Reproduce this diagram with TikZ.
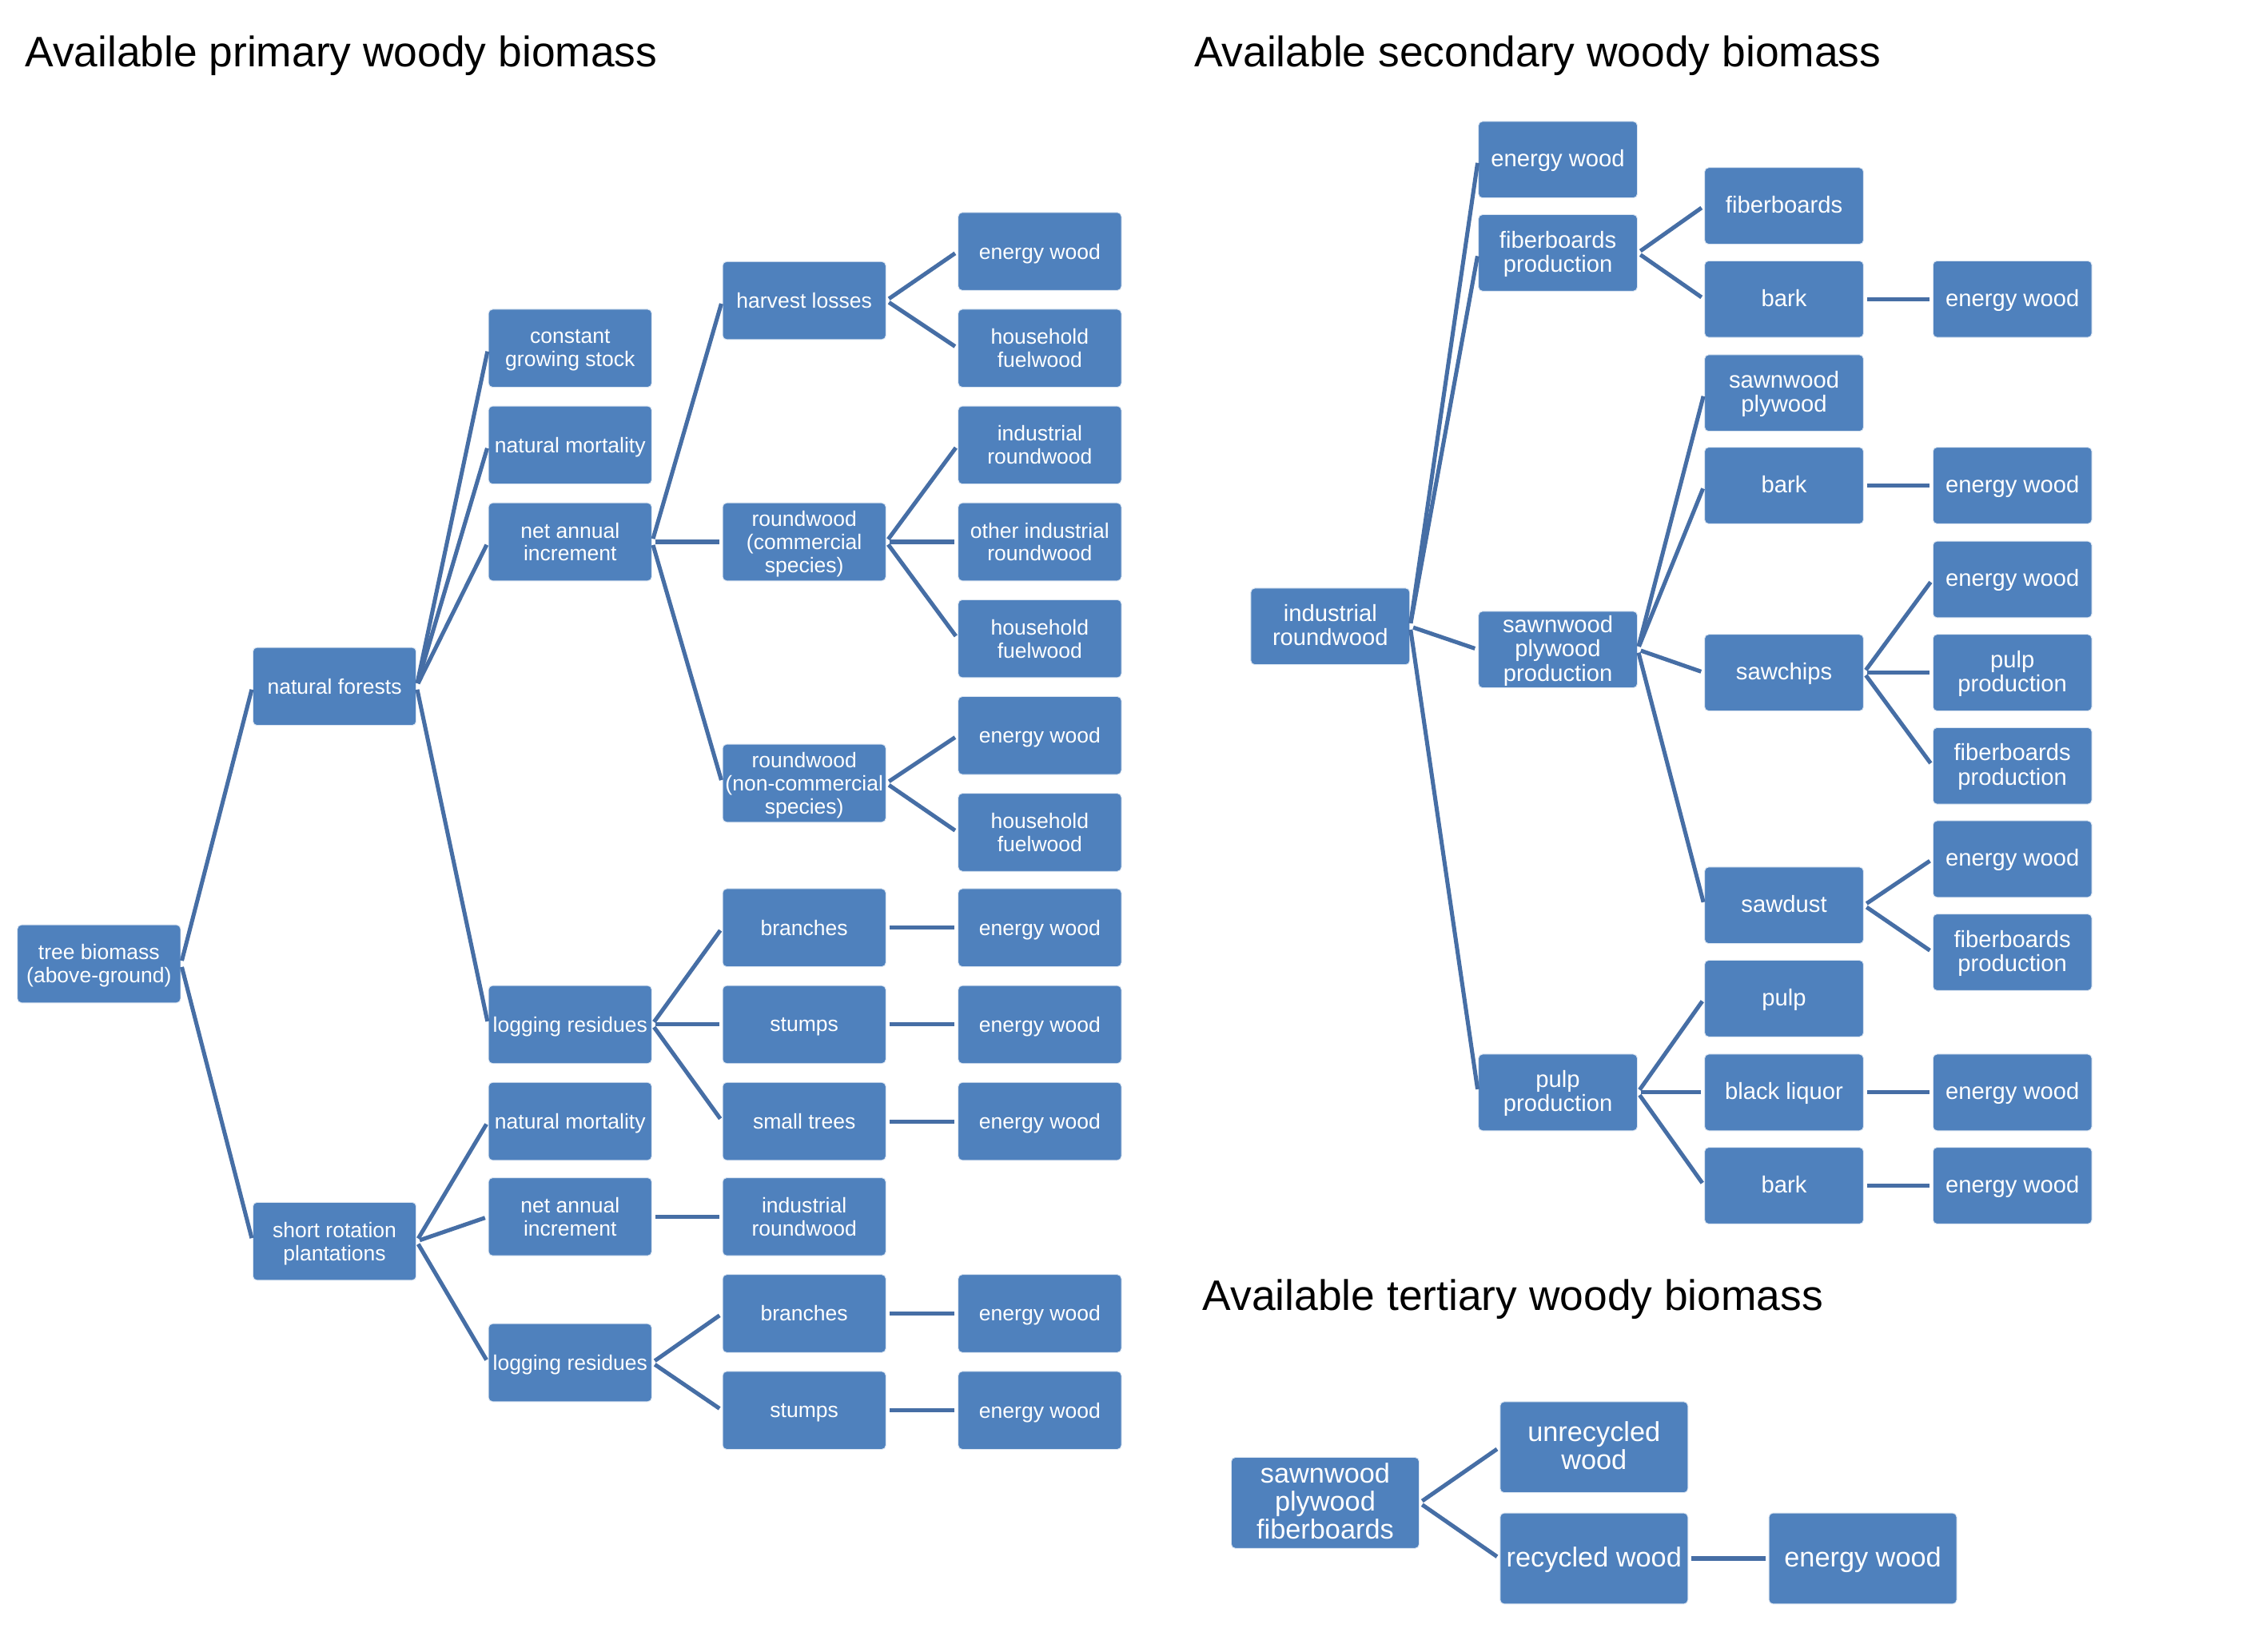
\documentclass[tikz,border=0pt]{standalone}
\usepackage{fontspec}
\setmainfont{Liberation Sans}
\usepackage{tikz}
\definecolor{boxblue}{RGB}{79,129,189}
\definecolor{linkblue}{RGB}{70,110,165}
\tikzset{every edge/.style={shorten >=0.45mm, shorten <=0.45mm, draw=linkblue, line width=1.6pt}}

\begin{document}
\begin{tikzpicture}[x=0.02cm, y=-0.02cm,
  box/.style={fill=boxblue, draw=white!80!boxblue, line width=0.3pt, rounded corners=1.6pt,
    text=white, align=center, inner sep=0pt},
  boxA/.style={box, minimum width=2.26cm, minimum height=1.08cm, text depth=0.1pt,
    font=\fontsize{8.35}{9.1}\selectfont},
  boxB/.style={box, minimum width=2.2cm, minimum height=1.06cm, text depth=1.1pt,
    font=\fontsize{9.2}{9.6}\selectfont},
  boxC/.style={box, minimum width=2.6cm, minimum height=1.26cm, text depth=1.3pt,
    font=\fontsize{10.8}{11}\selectfont},
  heading/.style={anchor=base west, inner sep=0pt, font=\fontsize{16.8}{18}\selectfont}]
  \useasboundingbox (0,0) rectangle (1568,1143);

  \node[heading] at (17,46) (tp) {Available primary woody biomass};
  \node[heading] at (826,46) (ts) {Available secondary woody biomass};
  \node[heading] at (832,907) (tt) {Available tertiary woody biomass};

  % primary
  \begin{scope}
  \node[boxA] at (68.5,667) (tb) {tree biomass\\(above-ground)};
  \node[boxA] at (231.5,475) (nf) {natural forests};
  \node[boxA] at (231.5,859) (srp) {short rotation\\plantations};

  \node[boxA] at (394.5,241) (cgs) {constant\\growing stock};
  \node[boxA] at (394.5,308) (nmA) {natural mortality};
  \node[boxA] at (394.5,375) (naiA) {net annual\\increment};
  \node[boxA] at (394.5,709) (lrA) {logging residues};
  \node[boxA] at (394.5,776) (nmB) {natural mortality};
  \node[boxA] at (394.5,842) (naiB) {net annual\\increment};
  \node[boxA] at (394.5,943) (lrB) {logging residues};

  \node[boxA] at (556.5,208) (hl) {harvest losses};
  \node[boxA] at (556.5,375) (rwc) {roundwood\\(commercial\\species)};
  \node[boxA] at (556.5,542) (rwn) {roundwood\\(non-commercial\\species)};
  \node[boxA] at (556.5,642) (brA) {branches};
  \node[boxA] at (556.5,709) (stA) {stumps};
  \node[boxA] at (556.5,776) (smt) {small trees};
  \node[boxA] at (556.5,842) (irB) {industrial\\roundwood};
  \node[boxA] at (556.5,909) (brB) {branches};
  \node[boxA] at (556.5,976) (stB) {stumps};

  \node[boxA] at (719.5,174) (ew1) {energy wood};
  \node[boxA] at (719.5,241) (hf1) {household\\fuelwood};
  \node[boxA] at (719.5,308) (ir1) {industrial\\roundwood};
  \node[boxA] at (719.5,375) (oir) {other industrial\\roundwood};
  \node[boxA] at (719.5,442) (hf2) {household\\fuelwood};
  \node[boxA] at (719.5,509) (ew2) {energy wood};
  \node[boxA] at (719.5,576) (hf3) {household\\fuelwood};
  \node[boxA] at (719.5,642) (ew3) {energy wood};
  \node[boxA] at (719.5,709) (ew4) {energy wood};
  \node[boxA] at (719.5,776) (ew5) {energy wood};
  \node[boxA] at (719.5,909) (ew6) {energy wood};
  \node[boxA] at (719.5,976) (ew7) {energy wood};

  \draw (tb.east) edge (nf.west) edge (srp.west);
  \draw (nf.east) edge (cgs.west) edge (nmA.west) edge (naiA.west) edge (lrA.west);
  \draw (srp.east) edge (nmB.west) edge (naiB.west) edge (lrB.west);
  \draw (naiA.east) edge (hl.west) edge (rwc.west) edge (rwn.west);
  \draw (lrA.east) edge (brA.west) edge (stA.west) edge (smt.west);
  \draw (naiB.east) edge (irB.west);
  \draw (lrB.east) edge (brB.west) edge (stB.west);
  \draw (hl.east) edge (ew1.west) edge (hf1.west);
  \draw (rwc.east) edge (ir1.west) edge (oir.west) edge (hf2.west);
  \draw (rwn.east) edge (ew2.west) edge (hf3.west);
  \draw (brA.east) edge (ew3.west);
  \draw (stA.east) edge (ew4.west);
  \draw (smt.east) edge (ew5.west);
  \draw (brB.east) edge (ew6.west);
  \draw (stB.east) edge (ew7.west);
  \end{scope}

  % secondary
  \begin{scope}
  \node[boxB] at (920.5,433.5) (irw) {industrial\\roundwood};

  \node[boxB] at (1078,110.5) (ewS1) {energy wood};
  \node[boxB] at (1078,175) (fbp) {fiberboards\\production};
  \node[boxB] at (1078,449.5) (spp) {sawnwood\\plywood\\production};
  \node[boxB] at (1078,756) (pp) {pulp\\production};

  \node[boxB] at (1234.5,142.5) (fb) {fiberboards};
  \node[boxB] at (1234.5,207) (bk1) {bark};
  \node[boxB] at (1234.5,272) (sp) {sawnwood\\plywood};
  \node[boxB] at (1234.5,336) (bk2) {bark};
  \node[boxB] at (1234.5,465.5) (sc) {sawchips};
  \node[boxB] at (1234.5,626.5) (sd) {sawdust};
  \node[boxB] at (1234.5,691) (pu) {pulp};
  \node[boxB] at (1234.5,756) (bl) {black liquor};
  \node[boxB] at (1234.5,820.5) (bk3) {bark};

  \node[boxB] at (1392.5,207) (ewS2) {energy wood};
  \node[boxB] at (1392.5,336) (ewS3) {energy wood};
  \node[boxB] at (1392.5,401) (ewS4) {energy wood};
  \node[boxB] at (1392.5,465.5) (ppS) {pulp\\production};
  \node[boxB] at (1392.5,530) (fbpS1) {fiberboards\\production};
  \node[boxB] at (1392.5,594.5) (ewS5) {energy wood};
  \node[boxB] at (1392.5,659) (fbpS2) {fiberboards\\production};
  \node[boxB] at (1392.5,756) (ewS6) {energy wood};
  \node[boxB] at (1392.5,820.5) (ewS7) {energy wood};

  \draw (irw.east) edge (ewS1.west) edge (fbp.west) edge (spp.west) edge (pp.west);
  \draw (fbp.east) edge (fb.west) edge (bk1.west);
  \draw (spp.east) edge (sp.west) edge (bk2.west) edge (sc.west) edge (sd.west);
  \draw (pp.east) edge (pu.west) edge (bl.west) edge (bk3.west);
  \draw (bk1.east) edge (ewS2.west);
  \draw (bk2.east) edge (ewS3.west);
  \draw (sc.east) edge (ewS4.west) edge (ppS.west) edge (fbpS1.west);
  \draw (sd.east) edge (ewS5.west) edge (fbpS2.west);
  \draw (bl.east) edge (ewS6.west);
  \draw (bk3.east) edge (ewS7.west);
  \end{scope}

  % tertiary
  \begin{scope}
  \node[boxC] at (917,1040) (spf) {sawnwood\\plywood\\fiberboards};
  \node[boxC] at (1103,1001.5) (urw) {unrecycled\\wood};
  \node[boxC] at (1103,1078.5) (rcw) {recycled wood};
  \node[boxC] at (1289,1078.5) (ewT) {energy wood};

  \draw (spf.east) edge (urw.west) edge (rcw.west);
  \draw (rcw.east) edge (ewT.west);
  \end{scope}
\end{tikzpicture}
\end{document}
